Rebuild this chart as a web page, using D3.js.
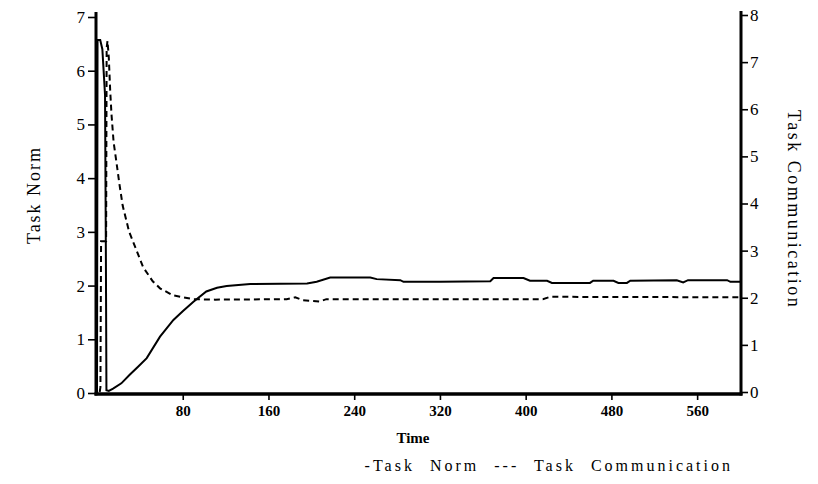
<!DOCTYPE html>
<html>
<head>
<meta charset="utf-8">
<script src="https://cdn.jsdelivr.net/npm/d3@7"></script>
<style>
  html, body { margin: 0; padding: 0; background: #fff; }
  svg { display: block; }
  text { font-family: "Liberation Serif", "DejaVu Serif", serif; fill: #000; }
</style>
</head>
<body>
<svg id="chart" width="818" height="484"></svg>
<script>
// ---- data ----
const normTime = [0, 0.5, 3, 5, 7.5, 8.3, 8.8, 11, 15, 22.7, 30.5, 38.3, 46.4, 58.8, 71.3, 80, 90, 102, 112, 121, 143, 196, 205, 217.6, 255, 261, 283, 286, 320, 367, 370, 398, 404, 420, 424.5, 460, 463, 482, 486.5, 494.5, 497.6, 541, 547, 551.5, 588, 591, 600];
const normValue = [0, 6.57, 6.57, 6.4, 5.55, 2.5, 0.05, 0.04, 0.08, 0.18, 0.34, 0.49, 0.65, 1.05, 1.36, 1.52, 1.70, 1.89, 1.96, 1.99, 2.03, 2.04, 2.07, 2.15, 2.15, 2.12, 2.10, 2.07, 2.07, 2.08, 2.14, 2.14, 2.09, 2.09, 2.05, 2.05, 2.09, 2.09, 2.05, 2.05, 2.09, 2.10, 2.06, 2.10, 2.10, 2.07, 2.07];

const commTime = [2.5, 3.2, 3.8, 8.5, 9, 9.8, 11, 12.3, 13.5, 15.5, 18, 21, 24, 30, 37, 43, 52, 58.8, 71, 90, 110, 177, 185, 192, 208, 214, 320, 416, 423, 600];
const commValue = [0, 0.1, 3.2, 3.2, 7.3, 7.45, 7.1, 6.4, 5.9, 5.3, 4.9, 4.4, 3.95, 3.4, 3.0, 2.65, 2.35, 2.2, 2.05, 1.97, 1.96, 1.97, 2.01, 1.95, 1.92, 1.97, 1.97, 1.97, 2.02, 2.01];

const xTicks = [80, 160, 240, 320, 400, 480, 560];
const leftTicks = [0, 1, 2, 3, 4, 5, 6, 7];
const rightTicks = [0, 1, 2, 3, 4, 5, 6, 7, 8];

const xTitle = "Time";
const leftTitle = "Task Norm";
const rightTitle = "Task Communication";
const legendText = "-Task Norm --- Task Communication";

// ---- layout ----
const svg = d3.select("#chart");
const x = d3.scaleLinear().domain([0, 600]).range([97, 740]);
const yL = d3.scaleLinear().domain([0, 7]).range([393, 17]);
const yR = d3.scaleLinear().domain([0, 8]).range([392, 15]);

const x0 = x(0) - 1, x1 = x(600) + 1, yBase = 394;

// lines
const normData = normTime.map((t, i) => [t, normValue[i]]);
const commData = commTime.map((t, i) => [t, commValue[i]]);

svg.append("path")
  .datum(commData)
  .attr("fill", "none").attr("stroke", "#000").attr("stroke-width", 2)
  .attr("stroke-dasharray", "6,4")
  .attr("d", d3.line().x(d => x(d[0])).y(d => yR(d[1])));

svg.append("path")
  .datum(normData)
  .attr("fill", "none").attr("stroke", "#000").attr("stroke-width", 2)
  .attr("d", d3.line().x(d => x(d[0])).y(d => yL(d[1])));

// left axis
const gL = svg.append("g").attr("transform", `translate(${x0},0)`);
gL.call(d3.axisLeft(yL).tickValues(leftTicks).tickSize(8).tickPadding(3).tickFormat(d3.format("d")));
gL.select(".domain").remove();
gL.selectAll(".tick line").attr("stroke-width", 1.6);
gL.selectAll(".tick text").style("font-size", "17px").style("font-family", "Liberation Serif");
svg.append("line").attr("x1", x0).attr("x2", x0).attr("y1", 12).attr("y2", yBase + 1.5)
  .attr("stroke", "#000").attr("stroke-width", 3);

// right axis
const gR = svg.append("g").attr("transform", `translate(${x1},0)`);
gR.call(d3.axisRight(yR).tickValues(rightTicks).tickSize(7).tickPadding(2).tickFormat(d3.format("d")));
gR.select(".domain").remove();
gR.selectAll(".tick line").attr("stroke-width", 1.6);
gR.selectAll(".tick text").style("font-size", "17px").style("font-family", "Liberation Serif");
svg.append("line").attr("x1", x1).attr("x2", x1).attr("y1", 11).attr("y2", yBase + 1.5)
  .attr("stroke", "#000").attr("stroke-width", 3);

// bottom axis
const gB = svg.append("g").attr("transform", `translate(0,${yBase})`);
gB.call(d3.axisBottom(x).tickValues(xTicks).tickSize(6).tickPadding(5).tickFormat(d3.format("d")));
gB.select(".domain").remove();
gB.selectAll(".tick line").attr("stroke-width", 1.6);
gB.selectAll(".tick text").style("font-size", "15px").style("font-weight", "bold").style("font-family", "Liberation Serif");
svg.append("line").attr("x1", x0 - 1.5).attr("x2", x1 + 1.5).attr("y1", yBase).attr("y2", yBase)
  .attr("stroke", "#000").attr("stroke-width", 3.5);

// titles
svg.append("text").attr("x", 413).attr("y", 443).attr("text-anchor", "middle")
  .style("font-size", "15px").style("font-weight", "bold").text(xTitle);

svg.append("text").attr("transform", "translate(40,195) rotate(-90)").attr("text-anchor", "middle")
  .style("font-size", "18px").style("letter-spacing", "2px").text(leftTitle);

svg.append("text").attr("transform", "translate(788,110) rotate(90)").attr("text-anchor", "start")
  .style("font-size", "18px").style("letter-spacing", "2.5px").text(rightTitle);

svg.append("text").attr("x", 733).attr("y", 471).attr("text-anchor", "end")
  .style("font-size", "16px").style("letter-spacing", "3px").style("word-spacing", "8px")
  .text(legendText);
</script>
</body>
</html>
